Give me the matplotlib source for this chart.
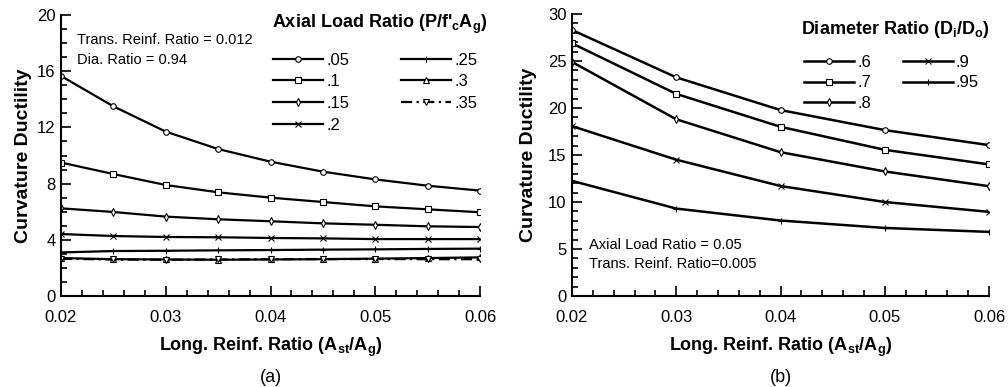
import numpy as np
import matplotlib
matplotlib.use("Agg")
import matplotlib.pyplot as plt
from matplotlib.ticker import MultipleLocator

plt.rcParams['font.family'] = ['Liberation Sans', 'DejaVu Sans']
plt.rcParams['mathtext.fontset'] = 'custom'
plt.rcParams['mathtext.rm'] = 'Liberation Sans'
plt.rcParams['mathtext.it'] = 'Liberation Sans'
plt.rcParams['mathtext.bf'] = 'Liberation Sans:bold'

# ---- data, panel (a): curvature ductility vs long. reinf. ratio, per axial load ratio
rho_a = [0.02, 0.025, 0.03, 0.035, 0.04, 0.045, 0.05, 0.055, 0.06]
alr_labels = ['.05', '.1', '.15', '.2', '.25', '.3', '.35']
duct_005 = [15.66, 13.5, 11.7, 10.46, 9.56, 8.85, 8.3, 7.85, 7.5]
duct_010 = [9.5, 8.68, 7.9, 7.38, 7.0, 6.69, 6.38, 6.17, 5.96]
duct_015 = [6.24, 5.98, 5.65, 5.46, 5.32, 5.17, 5.07, 4.96, 4.91]
duct_020 = [4.41, 4.27, 4.2, 4.18, 4.13, 4.1, 4.05, 4.05, 4.05]
duct_025 = [3.1, 3.2, 3.22, 3.25, 3.27, 3.3, 3.32, 3.35, 3.37]
duct_030 = [2.7, 2.62, 2.6, 2.58, 2.6, 2.62, 2.66, 2.7, 2.75]
duct_035 = [2.65, 2.6, 2.58, 2.6, 2.62, 2.63, 2.63, 2.62, 2.62]

# ---- data, panel (b): per diameter ratio Di/Do
rho_b = [0.02, 0.03, 0.04, 0.05, 0.06]
dr_labels = ['.6', '.7', '.8', '.9', '.95']
duct_d060 = [28.3, 23.26, 19.78, 17.65, 16.05]
duct_d070 = [26.88, 21.5, 18.0, 15.55, 14.0]
duct_d080 = [24.9, 18.8, 15.3, 13.25, 11.68]
duct_d090 = [18.07, 14.5, 11.7, 10.0, 8.95]
duct_d095 = [12.25, 9.3, 8.03, 7.24, 6.82]

series_a = [duct_005, duct_010, duct_015, duct_020, duct_025, duct_030, duct_035]
markers_a = ['o', 's', 'd', 'x', '+', '^', 'v']
styles_a = ['-', '-', '-', '-', '-', '-', (0, (5, 2, 1, 2))]
series_b = [duct_d060, duct_d070, duct_d080, duct_d090, duct_d095]
markers_b = ['o', 's', 'd', 'x', '+']

fig = plt.figure(figsize=(10.08, 3.87), dpi=100)
ax1 = fig.add_axes([61/1008, 1-296/387, (480-61)/1008, (296-15)/387])
ax2 = fig.add_axes([572/1008, 1-296/387, (989-572)/1008, (296-14)/387])


def style_axes(ax):
    for s in ['top', 'right']:
        ax.spines[s].set_visible(False)
    for s in ['left', 'bottom']:
        ax.spines[s].set_linewidth(1.5)
    ax.xaxis.set_major_locator(MultipleLocator(0.01))
    ax.xaxis.set_minor_locator(MultipleLocator(0.002))
    ax.tick_params(which='both', direction='in', labelsize=12, width=1.2)
    ax.tick_params(which='major', length=7, pad=4)
    ax.tick_params(axis='x', which='major', pad=10)
    ax.tick_params(which='minor', length=4)
    ax.set_xlim(0.02, 0.06)
    ax.set_xticks([0.02, 0.03, 0.04, 0.05, 0.06])
    ax.set_xticklabels(['0.02', '0.03', '0.04', '0.05', '0.06'])
    ax.set_xlabel(r"Long. Reinf. Ratio (A$_\mathbf{st}$/A$_\mathbf{g}$)",
                  fontsize=13, fontweight='bold', labelpad=8)
    ax.set_ylabel("Curvature Ductility", fontsize=14, fontweight='bold')


# panel (a)
for y, m, ls, lab in zip(series_a, markers_a, styles_a, alr_labels):
    ax1.plot(rho_a, y, color='black', lw=1.6, ls=ls, marker=m, ms=4,
             mfc='white', mec='black', mew=0.8, label=lab)
style_axes(ax1)
ax1.set_ylim(0, 20)
ax1.yaxis.set_major_locator(MultipleLocator(4))
ax1.yaxis.set_minor_locator(MultipleLocator(1))
ax1.yaxis.set_label_coords(-0.07, 0.5)
ax1.text(0.038, 0.935, "Trans. Reinf. Ratio = 0.012\nDia. Ratio = 0.94",
         transform=ax1.transAxes, fontsize=10.5, va='top', linespacing=1.55)
ax1.text(0.503, 0.965, r"Axial Load Ratio (P/f'$_\mathbf{c}$A$_\mathbf{g}$)",
         transform=ax1.transAxes, fontsize=13, fontweight='bold', va='center')
leg1 = ax1.legend(ncol=2, frameon=False, fontsize=12, loc='upper left',
                  bbox_to_anchor=(0.49, 0.89), handlelength=3.0,
                  handletextpad=0.2, columnspacing=3.1, labelspacing=0.4,
                  borderaxespad=0)
ax1.text(0.5, -0.29, "(a)", transform=ax1.transAxes, ha='center', va='center',
         fontsize=13)

# panel (b)
for y, m, lab in zip(series_b, markers_b, dr_labels):
    ax2.plot(rho_b, y, color='black', lw=1.8, marker=m, ms=4,
             mfc='white', mec='black', mew=0.8, label=lab)
style_axes(ax2)
ax2.set_ylim(0, 30)
ax2.yaxis.set_major_locator(MultipleLocator(5))
ax2.yaxis.set_minor_locator(MultipleLocator(1))
ax2.yaxis.set_label_coords(-0.085, 0.5)
ax2.text(0.04, 0.205, "Axial Load Ratio = 0.05\nTrans. Reinf. Ratio=0.005",
         transform=ax2.transAxes, fontsize=10.5, va='top', linespacing=1.45)
ax2.text(0.55, 0.945, r"Diameter Ratio (D$_\mathbf{i}$/D$_\mathbf{o}$)",
         transform=ax2.transAxes, fontsize=13, fontweight='bold', va='center')
leg2 = ax2.legend(ncol=2, frameon=False, fontsize=12, loc='upper left',
                  bbox_to_anchor=(0.54, 0.88), handlelength=3.0,
                  handletextpad=0.2, columnspacing=1.9, labelspacing=0.35,
                  borderaxespad=0)
ax2.text(0.5, -0.29, "(b)", transform=ax2.transAxes, ha='center', va='center',
         fontsize=13)

fig.savefig("out.png", dpi=100)
